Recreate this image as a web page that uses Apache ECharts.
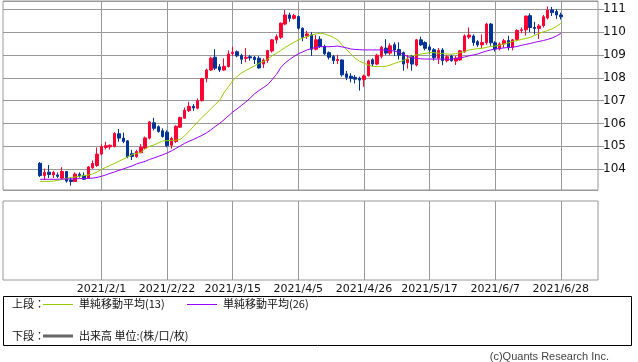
<!DOCTYPE html>
<html><head><meta charset="utf-8">
<script src="https://cdn.jsdelivr.net/npm/echarts@6/dist/echarts.min.js"></script>
<style>html,body{margin:0;padding:0;background:#fff}#c{width:638px;height:362px}</style>
</head><body><div id="c"></div>
<script>
const dates = [
'2021/1/12','2021/1/13','2021/1/14','2021/1/15','2021/1/18','2021/1/19','2021/1/20','2021/1/21','2021/1/22','2021/1/25','2021/1/26','2021/1/27','2021/1/28','2021/1/29',
'2021/2/1','2021/2/2','2021/2/3','2021/2/4','2021/2/5','2021/2/8','2021/2/9','2021/2/10','2021/2/11','2021/2/12','2021/2/15','2021/2/16','2021/2/17','2021/2/18','2021/2/19','2021/2/22','2021/2/23','2021/2/24','2021/2/25','2021/2/26',
'2021/3/1','2021/3/2','2021/3/3','2021/3/4','2021/3/5','2021/3/8','2021/3/9','2021/3/10','2021/3/11','2021/3/12','2021/3/15','2021/3/16','2021/3/17','2021/3/18','2021/3/19','2021/3/22','2021/3/23','2021/3/24','2021/3/25','2021/3/26','2021/3/29','2021/3/30','2021/3/31',
'2021/4/1','2021/4/2','2021/4/5','2021/4/6','2021/4/7','2021/4/8','2021/4/9','2021/4/12','2021/4/13','2021/4/14','2021/4/15','2021/4/16','2021/4/19','2021/4/20','2021/4/21','2021/4/22','2021/4/23','2021/4/26','2021/4/27','2021/4/28','2021/4/29','2021/4/30',
'2021/5/3','2021/5/4','2021/5/5','2021/5/6','2021/5/7','2021/5/10','2021/5/11','2021/5/12','2021/5/13','2021/5/14','2021/5/17','2021/5/18','2021/5/19','2021/5/20','2021/5/21','2021/5/24','2021/5/25','2021/5/26','2021/5/27','2021/5/28','2021/5/31',
'2021/6/1','2021/6/2','2021/6/3','2021/6/4','2021/6/7','2021/6/8','2021/6/9','2021/6/10','2021/6/11','2021/6/14','2021/6/15','2021/6/16','2021/6/17','2021/6/18','2021/6/21','2021/6/22','2021/6/23','2021/6/24','2021/6/25','2021/6/28'];
const leadDates = ['2020/12/31','2021/1/1','2021/1/4','2021/1/5','2021/1/6','2021/1/7','2021/1/8','2021/1/11'];
const tailDates = ['2021/6/29','2021/6/30','2021/7/1','2021/7/2','2021/7/5','2021/7/6','2021/7/7','2021/7/8'];
const tickLabels = ['2021/2/1','2021/2/22','2021/3/15','2021/4/5','2021/4/26','2021/5/17','2021/6/7','2021/6/28'];

const open = [104.26,103.72,103.87,103.75,103.75,103.61,103.90,103.53,103.46,103.78,103.73,103.61,104.06,104.16,
104.66,104.95,104.98,104.99,105.55,105.36,105.24,104.68,104.55,104.72,104.92,105.36,106.03,105.86,105.68,105.62,105.05,105.21,105.84,106.23,
106.56,106.75,106.67,107.00,107.98,108.34,108.90,108.48,108.34,108.49,109.06,109.14,108.98,108.85,108.92,108.90,108.86,108.60,108.76,109.17,109.66,109.77,110.35,
110.75,110.60,110.68,110.17,109.82,109.88,109.25,109.69,109.37,109.10,108.93,108.75,108.78,108.17,108.07,108.02,107.98,107.92,108.09,108.79,108.60,108.94,
109.30,109.08,109.45,109.24,109.10,108.66,108.95,108.56,109.66,109.54,109.35,109.23,108.86,109.22,108.75,108.95,108.73,108.78,109.13,109.78,109.83,
109.58,109.44,109.53,110.35,109.53,109.26,109.48,109.63,109.33,109.68,110.07,110.10,110.72,110.20,110.16,110.28,110.62,110.97,110.90,110.75];
const close = [103.72,103.86,103.77,103.86,103.69,103.90,103.48,103.46,103.79,103.72,103.56,104.10,104.25,104.66,
104.99,105.03,105.05,105.56,105.36,105.21,104.55,104.56,104.77,104.96,105.37,106.07,105.79,105.65,105.43,105.03,105.35,105.88,106.26,106.58,
106.75,106.68,107.00,107.97,108.34,108.86,108.42,108.34,108.50,109.04,109.12,108.96,108.81,108.90,108.87,108.80,108.43,108.78,109.19,109.66,109.80,110.39,110.75,
110.60,110.72,110.17,109.77,109.92,109.25,109.66,109.37,109.05,108.90,108.75,108.80,108.13,108.02,107.98,107.94,107.90,108.08,108.74,108.60,108.99,109.34,
109.08,109.40,109.22,108.99,108.60,108.81,108.60,109.66,109.44,109.29,109.22,108.88,109.20,108.75,108.92,108.75,108.86,109.18,109.83,109.87,109.54,
109.44,109.54,110.35,109.53,109.26,109.48,109.62,109.33,109.66,110.07,110.10,110.70,110.20,110.16,110.27,110.67,110.96,110.85,110.75,110.67];
const low = [103.66,103.53,103.62,103.61,103.61,103.53,103.41,103.28,103.44,103.63,103.53,103.58,104.02,104.10,
104.62,104.86,104.86,104.95,105.20,105.14,104.48,104.40,104.50,104.70,104.90,105.30,105.70,105.60,105.38,104.96,104.90,105.15,105.80,106.20,
106.50,106.55,106.62,106.96,107.80,108.30,108.34,108.25,108.30,108.45,108.95,108.90,108.60,108.68,108.75,108.60,108.40,108.42,108.65,109.10,109.50,109.70,110.30,
110.45,110.55,110.10,109.60,109.70,108.96,109.20,109.30,109.00,108.80,108.60,108.60,108.05,107.90,107.80,107.75,107.44,107.61,108.05,108.50,108.55,108.85,
109.00,109.00,108.95,108.80,108.31,108.40,108.31,108.50,109.40,109.20,109.05,108.75,108.60,108.55,108.68,108.70,108.56,108.75,109.10,109.70,109.40,
109.35,109.30,109.45,109.40,109.15,109.20,109.30,109.20,109.20,109.60,109.95,109.85,110.00,109.90,109.70,110.20,110.55,110.70,110.58,110.55];
const high = [104.31,104.03,104.18,103.93,103.86,104.09,103.92,103.63,103.86,103.86,103.86,104.14,104.38,104.95,
105.08,105.20,105.08,105.62,105.76,105.60,105.27,104.85,104.85,105.10,105.43,106.10,106.25,105.92,105.79,105.70,105.42,105.92,106.30,106.70,
106.95,106.85,107.10,108.00,108.40,108.92,109.25,108.60,108.85,109.20,109.36,109.20,109.05,109.30,109.00,108.95,108.95,108.85,109.22,109.70,109.90,110.42,110.97,
110.85,110.80,110.73,110.20,110.05,110.00,109.88,109.82,109.45,109.15,109.00,109.00,108.80,108.30,108.20,108.12,108.05,108.14,108.80,108.85,109.05,109.40,
109.69,109.51,109.55,109.55,109.15,109.00,109.00,109.70,109.80,109.60,109.45,109.30,109.30,109.30,109.00,109.00,108.95,109.20,109.90,110.20,109.90,
109.65,109.90,110.40,110.40,109.60,109.55,109.70,109.84,109.70,110.12,110.20,110.72,110.82,110.45,110.35,110.75,111.12,111.10,111.00,110.85];
const ma13 = [103.47,103.47,103.47,103.48,103.51,103.55,103.60,103.63,103.66,103.69,103.72,103.75,103.79,103.88,
103.99,104.08,104.17,104.25,104.35,104.44,104.54,104.63,104.69,104.73,104.89,105.00,105.06,105.15,105.24,105.25,105.26,105.27,105.30,105.46,
105.65,105.86,106.07,106.27,106.45,106.64,106.83,107.01,107.34,107.61,107.86,108.06,108.21,108.32,108.42,108.52,108.63,108.71,108.82,108.96,109.07,109.20,109.33,
109.44,109.55,109.66,109.74,109.81,109.87,109.92,109.95,109.92,109.85,109.77,109.66,109.44,109.24,109.04,108.85,108.72,108.64,108.56,108.50,108.49,108.49,
108.50,108.56,108.63,108.69,108.76,108.85,108.96,109.00,109.04,109.07,109.10,109.10,109.08,109.06,109.04,109.03,109.06,109.10,109.15,109.22,109.25,
109.27,109.29,109.33,109.37,109.39,109.42,109.48,109.53,109.59,109.63,109.68,109.72,109.77,109.85,109.94,110.01,110.07,110.14,110.25,110.38];
const ma26 = [103.56,103.56,103.56,103.56,103.56,103.57,103.57,103.58,103.58,103.59,103.59,103.60,103.61,103.64,
103.69,103.75,103.82,103.88,103.95,104.01,104.08,104.14,104.23,104.29,104.34,104.43,104.49,104.56,104.63,104.71,104.80,104.91,105.02,105.13,
105.22,105.30,105.39,105.48,105.59,105.72,105.87,106.00,106.16,106.33,106.50,106.64,106.79,106.94,107.11,107.30,107.44,107.57,107.70,107.92,108.15,108.45,108.65,
108.80,108.93,109.05,109.13,109.22,109.28,109.33,109.36,109.36,109.36,109.37,109.39,109.35,109.31,109.26,109.24,109.23,109.22,109.22,109.22,109.22,109.22,
109.21,109.19,109.17,109.11,109.02,108.93,108.87,108.85,108.83,108.82,108.82,108.82,108.82,108.82,108.81,108.81,108.85,108.87,108.91,108.96,109.00,
109.04,109.11,109.17,109.22,109.26,109.28,109.31,109.32,109.34,109.37,109.42,109.46,109.50,109.55,109.59,109.63,109.68,109.74,109.83,109.94];

const categories = leadDates.concat(dates, tailDates);
const pad = a => leadDates.map(() => '-').concat(a, tailDates.map(() => '-'));
const candles = pad(dates.map((d, i) => [open[i], close[i], low[i], high[i]]));
const showTick = (idx, val) => tickLabels.indexOf(val) >= 0;

const GRID = '#999';
const chart = echarts.init(document.getElementById('c'), null, {renderer: 'canvas'});
chart.setOption({
  animation: false,
  backgroundColor: '#fff',
  grid: [
    {left: 3, right: 40, top: 1, height: 189, show: true, borderColor: GRID, borderWidth: 1, containLabel: false},
    {left: 3, right: 40, top: 201, height: 79, show: true, borderColor: GRID, borderWidth: 1, containLabel: false}
  ],
  xAxis: [
    {type: 'category', gridIndex: 0, data: categories, boundaryGap: true,
     axisLine: {show: false}, axisTick: {show: false}, axisLabel: {show: false},
     splitLine: {show: true, interval: showTick, alignWithLabel: true, lineStyle: {color: GRID, width: 1}}},
    {type: 'category', gridIndex: 1, data: categories, boundaryGap: true,
     axisLine: {show: false}, axisTick: {show: false},
     axisLabel: {show: true, interval: showTick, color: '#111', fontSize: 11, fontFamily: 'DejaVu Sans', margin: 4},
     splitLine: {show: true, interval: showTick, alignWithLabel: true, lineStyle: {color: GRID, width: 1}}}
  ],
  yAxis: [
    {type: 'value', gridIndex: 0, position: 'right', min: 103.09, max: 111.36, minInterval: 1, maxInterval: 1, splitNumber: 8,
     axisLine: {show: false},
     axisTick: {show: true, length: 6, lineStyle: {color: GRID}},
     axisLabel: {show: true, color: '#111', fontSize: 12, fontFamily: 'DejaVu Sans', margin: 5, showMinLabel: false, showMaxLabel: false,
       formatter: v => Math.abs(v - Math.round(v)) < 1e-6 ? String(Math.round(v)) : ''},
     splitLine: {show: true, lineStyle: {color: GRID, width: 1}}},
    {type: 'value', gridIndex: 1, position: 'right', min: 0, max: 1,
     axisLine: {show: false}, axisTick: {show: false}, axisLabel: {show: false}, splitLine: {show: false}}
  ],
  series: [
    {name: 'candle', type: 'candlestick', xAxisIndex: 0, yAxisIndex: 0, data: candles, barWidth: 3,
     itemStyle: {color: '#ff0033', color0: '#003399', borderColor: '#ff0033', borderColor0: '#003399', borderWidth: 1}},
    {name: '単純移動平均(13)', type: 'line', xAxisIndex: 0, yAxisIndex: 0, data: pad(ma13), showSymbol: false, symbol: 'none',
     lineStyle: {color: '#99cc00', width: 1}, z: 3},
    {name: '単純移動平均(26)', type: 'line', xAxisIndex: 0, yAxisIndex: 0, data: pad(ma26), showSymbol: false, symbol: 'none',
     lineStyle: {color: '#9900ff', width: 1}, z: 3},
    {name: '出来高', type: 'bar', xAxisIndex: 1, yAxisIndex: 1, data: pad(dates.map(() => '-'))}
  ],
  graphic: [
    {type: 'rect', shape: {x: 3.5, y: 296.5, width: 628, height: 49}, style: {fill: 'none', stroke: '#000', lineWidth: 1}},
    {type: 'text', x: 12, y: 304, style: {text: '上段：', font: '11px "Noto Sans CJK JP"', fill: '#111', textVerticalAlign: 'middle'}},
    {type: 'line', shape: {x1: 43, y1: 304.5, x2: 73, y2: 304.5}, style: {stroke: '#99cc00', lineWidth: 1}},
    {type: 'text', x: 79, y: 304, style: {text: '単純移動平均(13)', font: '11px "Noto Sans CJK JP"', fill: '#111', textVerticalAlign: 'middle'}},
    {type: 'line', shape: {x1: 187, y1: 304.5, x2: 217, y2: 304.5}, style: {stroke: '#9900ff', lineWidth: 1}},
    {type: 'text', x: 223, y: 304, style: {text: '単純移動平均(26)', font: '11px "Noto Sans CJK JP"', fill: '#111', textVerticalAlign: 'middle'}},
    {type: 'text', x: 12, y: 336, style: {text: '下段：', font: '11px "Noto Sans CJK JP"', fill: '#111', textVerticalAlign: 'middle'}},
    {type: 'line', shape: {x1: 43, y1: 336, x2: 73, y2: 336}, style: {stroke: '#666', lineWidth: 3}},
    {type: 'text', x: 79, y: 336, style: {text: '出来高 単位:(株/口/枚)', font: '11px "Noto Sans CJK JP"', fill: '#111', textVerticalAlign: 'middle'}},
    {type: 'text', x: 609, y: 357, style: {text: '(c)Quants Research Inc.', font: '11px "Liberation Sans"', fill: '#444', textAlign: 'right', textVerticalAlign: 'middle'}}
  ]
});
</script></body></html>
